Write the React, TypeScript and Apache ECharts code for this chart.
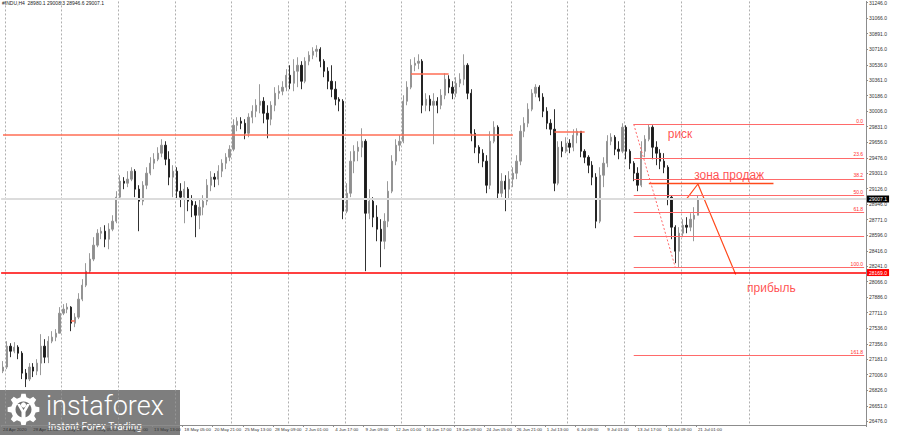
import { useEffect, useRef } from 'react'
import * as echarts from 'echarts'

const titleText = '#INDU,H4  28980.1 29008.3 28946.6 29007.1'

// one label every 8 slots (each slot = two H4 bars)
const timeLabels = [
  '24 Apr 2020', '28 Apr 21:00', '1 May 13:00', '6 May 05:00', '8 May 21:00', '13 May 13:00',
  '18 May 05:00', '20 May 21:00', '25 May 13:00', '28 May 09:00', '2 Jun 01:00', '4 Jun 17:00',
  '9 Jun 09:00', '12 Jun 01:00', '16 Jun 17:00', '19 Jun 09:00', '24 Jun 05:00', '26 Jun 21:00',
  '1 Jul 13:00', '6 Jul 09:00', '9 Jul 01:00', '13 Jul 17:00', '16 Jul 09:00', '21 Jul 01:00',
]
const LABEL_STEP = 8
const SLOT_COUNT = 229

const priceTicks = [
  26476, 26651, 26826, 27006, 27181, 27356, 27536, 27711, 27886, 28066, 28241, 28416, 28596, 28771,
  28946, 29126, 29301, 29476, 29656, 29831, 30006, 30186, 30361, 30536, 30716, 30891, 31066, 31246,
]

// week separators (slot index)
const weekSeparators = [1, 16, 31, 46, 61, 76, 91, 106, 120, 135, 150, 165, 180, 198]

const firstOpen = 27046
const closes = [
  27092, 27330, 27273, 27319, 27250, 27023, 26955, 27092, 27046, 27137,
  27330, 27205, 27387, 27433, 27478, 27706, 27752, 27775, 27592, 27661,
  27866, 28025, 28185, 28322, 28481, 28617, 28640, 28549, 28663, 28754,
  29028, 29210, 29187, 29233, 29324, 29119, 28982, 29164, 29301, 29415,
  29460, 29529, 29620, 29460, 29256, 29324, 29096, 29028, 29119, 28982,
  28936, 28822, 28914, 28982, 29164, 29256, 29233, 29324, 29415, 29483,
  29574, 29847, 29893, 29870, 29756, 29939, 30007, 30075, 30121, 29984,
  29916, 30075, 30212, 30235, 30281, 30417, 30326, 30463, 30531, 30349,
  30577, 30645, 30690, 30713, 30577, 30463, 30349, 30258, 30144, 30121,
  28868, 29073, 29438, 29551, 29597, 29665, 28845, 28982, 28800, 28663,
  28526, 28754, 29096, 29438, 29620, 29665, 30121, 30281, 30531, 30554,
  30577, 30075, 30144, 30075, 30121, 30075, 30189, 30372, 30281, 30212,
  30326, 30372, 30531, 30212, 29756, 29597, 29529, 29438, 29164, 29665,
  29825, 29073, 29210, 29119, 29233, 29301, 29438, 29779, 29870, 30030,
  30212, 30281, 30167, 30007, 29870, 29802, 29187, 29597, 29551, 29642,
  29597, 29734, 29779, 29551, 29483, 29392, 29256, 28754, 29278, 29415,
  29665, 29711, 29574, 29551, 29825, 29551, 29415, 29301, 29164, 29551,
  29688, 29825, 29597, 29529, 29438, 29369, 29028, 28686, 28412, 28617,
  28708, 28686, 28777, 28822, 29007.1,
]
const highs = [
  27160, 27387, 27364, 27376, 27341, 27273, 27069, 27137, 27137, 27182,
  27467, 27410, 27444, 27501, 27524, 27775, 27809, 27820, 27786, 27706,
  27934, 28094, 28276, 28390, 28572, 28663, 28686, 28708, 28731, 28822,
  29096, 29278, 29256, 29324, 29369, 29347, 29164, 29210, 29369, 29483,
  29529, 29597, 29688, 29665, 29551, 29392, 29369, 29187, 29210, 29142,
  29051, 28982, 29005, 29051, 29233, 29324, 29301, 29392, 29460, 29529,
  29620, 29916, 29939, 29939, 29916, 29984, 30075, 30144, 30315, 30167,
  30075, 30121, 30281, 30303, 30349, 30486, 30531, 30600, 30622, 30577,
  30622, 30690, 30736, 30759, 30736, 30600, 30508, 30531, 30349, 30167,
  30144, 29187, 29551, 29620, 29665, 29813, 29688, 29119, 29028, 28936,
  28777, 28845, 29210, 29506, 29688, 29734, 30189, 30349, 30600, 30622,
  30656, 30600, 30212, 30189, 30212, 30167, 30258, 30440, 30417, 30349,
  30395, 30440, 30656, 30554, 30258, 29802, 29620, 29574, 29506, 29779,
  29893, 29847, 29301, 29278, 29324, 29369, 29506, 29847, 29939, 30098,
  30258, 30315, 30303, 30212, 30053, 29916, 30030, 29665, 29665, 29711,
  29688, 29802, 29813, 29779, 29574, 29506, 29438, 29301, 29369, 29483,
  29734, 29756, 29734, 29665, 29870, 29847, 29574, 29438, 29369, 29665,
  29734, 29859, 29847, 29665, 29574, 29529, 29392, 29051, 28708, 28686,
  28777, 28800, 28845, 28914, 29051,
]
const lows = [
  27023, 27069, 27205, 27250, 27182, 26955, 26864, 26932, 26978, 27000,
  27000, 27137, 27137, 27364, 27387, 27478, 27684, 27706, 27501, 27547,
  27638, 27843, 28003, 28162, 28299, 28458, 28549, 28458, 28435, 28640,
  28731, 29005, 29119, 29142, 29210, 29028, 28640, 28936, 29119, 29278,
  29347, 29438, 29483, 29392, 29164, 29028, 29005, 28914, 28731, 28868,
  28800, 28572, 28663, 28822, 28936, 29096, 29142, 29164, 29256, 29347,
  29438, 29551, 29779, 29802, 29688, 29711, 29870, 29939, 29984, 29870,
  29699, 29847, 30007, 30144, 30189, 30235, 30258, 30235, 30281, 30258,
  30326, 30531, 30600, 30622, 30508, 30395, 30258, 30167, 30075, 30007,
  28777, 28845, 29028, 29301, 29438, 29483, 28185, 28777, 28686, 28526,
  28230, 28435, 28686, 29073, 29392, 29551, 29642, 30075, 30258, 30463,
  30486, 29984, 30007, 30007, 29631, 29984, 30030, 30144, 30212, 30144,
  30167, 30281, 30303, 30144, 29665, 29529, 29415, 29369, 29073, 29119,
  29642, 29005, 29028, 28868, 29005, 29142, 29233, 29392, 29711, 29825,
  30007, 30167, 30121, 29939, 29802, 29734, 29096, 29164, 29483, 29529,
  29529, 29551, 29642, 29483, 29415, 29301, 29164, 28674, 28731, 29142,
  29369, 29620, 29506, 29460, 29529, 29460, 29347, 29210, 29096, 29142,
  29483, 29665, 29460, 29392, 29347, 29301, 28936, 28549, 28276, 28230,
  28572, 28617, 28640, 28526, 28822,
]

const lastPrice = 29007.1
const supportPrice = 28169.0

// drawn horizontal levels: [fromSlot, toSlot, price]
const levelSegments = [
  [0, 135, 29734],
  [108, 118, 30436],
  [146, 154, 29768],
  [18, 19, 27615],
]
const sellZone = [171, 204, 29183]
const projectionSlots = [181, 184, 194]
const projectionPrices = [29008, 29178, 28146]

const fibHigh = 29859
const fibLow = 28230
const fibStartSlot = 167
const fibEndSlot = 228
const fibDiagonalSlots = [167, 178]
const fibRatios = [0.0, 23.6, 38.2, 50.0, 61.8, 78.6, 100.0, 161.8]
const fibLabels = ['0.0', '23.6', '38.2', '50.0', '61.8', '', '100.0', '161.8']

const noteTexts = ['риск', 'зона продаж', 'прибыль']
const noteSlots = [176, 183, 197]
const notePrices = [29745, 29278, 27991]

function gearPoints(cx: number, cy: number, rOut: number, rIn: number, teeth: number) {
  const pts: number[][] = []
  const step = (Math.PI * 2) / teeth
  for (let k = 0; k < teeth; k++) {
    const a = k * step
    const angles = [a - step * 0.3, a - step * 0.17, a + step * 0.17, a + step * 0.3]
    const radii = [rIn, rOut, rOut, rIn]
    angles.forEach((t, j) => pts.push([cx + radii[j] * Math.cos(t), cy + radii[j] * Math.sin(t)]))
  }
  return pts
}

function buildOption() {
  const categories = Array.from({ length: SLOT_COUNT }, (_, i) => String(i))
  const candles = closes.map((c, i) => [i === 0 ? firstOpen : closes[i - 1], c, lows[i], highs[i]])

  const fibRange = fibHigh - fibLow
  const fibLines = fibRatios.map((r, i) => {
    const price = fibHigh - (r / 100) * fibRange
    return [
      {
        coord: [String(fibStartSlot), price],
        lineStyle: { color: '#ff6a6a', width: 1, type: 'solid' },
        label: {
          show: fibLabels[i] !== '',
          formatter: fibLabels[i],
          position: 'insideEndTop',
          distance: 1,
          color: '#ff3030',
          fontSize: 5,
          fontFamily: 'Liberation Sans',
        },
      },
      { coord: [String(fibEndSlot), price] },
    ]
  })

  const segLines = levelSegments.map(([a, b, p]) => [
    { coord: [String(a), p], lineStyle: { color: '#ff6e55', width: 1.5, type: 'solid' } },
    { coord: [String(b), p] },
  ])

  const markLines: any[] = [
    {
      yAxis: lastPrice,
      lineStyle: { color: '#dcdcdc', width: 2, type: 'solid' },
      label: {
        show: true, position: 'end', distance: 1, formatter: '29007.1',
        backgroundColor: '#000', color: '#fff', fontSize: 5, padding: [1, 2],
        fontFamily: 'Liberation Sans',
      },
    },
    {
      yAxis: supportPrice,
      lineStyle: { color: '#ff0000', width: 1.5, type: 'solid' },
      label: {
        show: true, position: 'end', distance: 1, formatter: '28169.0',
        backgroundColor: '#ff0000', color: '#fff', fontSize: 5, padding: [1, 2],
        fontFamily: 'Liberation Sans',
      },
    },
    ...segLines,
    [
      { coord: [String(sellZone[0]), sellZone[2]], lineStyle: { color: '#ff4a1c', width: 1.3, type: 'solid' } },
      { coord: [String(sellZone[1]), sellZone[2]] },
    ],
    ...fibLines,
    [
      { coord: [String(fibDiagonalSlots[0]), fibHigh], lineStyle: { color: '#ff6a6a', width: 1, type: [2, 2] } },
      { coord: [String(fibDiagonalSlots[1]), fibLow] },
    ],
  ]

  const gear = gearPoints(23.5, 409.5, 16, 12.5, 8)

  return {
    animation: false,
    backgroundColor: '#ffffff',
    title: {
      text: titleText,
      left: 2,
      top: 0,
      padding: 0,
      textStyle: { fontSize: 5, fontWeight: 'normal', color: '#222', fontFamily: 'Liberation Sans' },
    },
    grid: { left: 0, right: 34, top: 0, bottom: 10 },
    xAxis: {
      type: 'category',
      data: categories,
      boundaryGap: true,
      axisLine: { show: true, lineStyle: { color: '#8c8c8c', width: 1 } },
      axisTick: {
        show: true,
        length: 2,
        interval: (idx: number) => idx % LABEL_STEP === 0 && idx / LABEL_STEP < timeLabels.length,
        lineStyle: { color: '#8c8c8c' },
      },
      axisLabel: {
        show: true,
        interval: (idx: number) => idx % LABEL_STEP === 0 && idx / LABEL_STEP < timeLabels.length,
        formatter: (v: string) => timeLabels[Number(v) / LABEL_STEP] ?? '',
        fontSize: 4.4,
        color: '#333',
        align: 'left',
        margin: 2,
        fontFamily: 'Liberation Sans',
      },
      splitLine: {
        show: true,
        interval: (idx: number) => weekSeparators.includes(idx),
        lineStyle: { color: '#9a9a9a', width: 0.8, type: [2, 2] },
      },
    },
    yAxis: {
      type: 'value',
      position: 'right',
      min: 26432,
      max: 31258,
      scale: true,
      splitLine: { show: false },
      axisLine: { show: true, lineStyle: { color: '#8c8c8c', width: 1 } },
      axisTick: { show: true, length: 2, customValues: priceTicks, lineStyle: { color: '#8c8c8c' } },
      axisLabel: {
        show: true,
        customValues: priceTicks,
        formatter: (v: number) => v.toFixed(1),
        fontSize: 5,
        color: '#333',
        margin: 3,
        fontFamily: 'Liberation Sans',
      },
    },
    series: [
      {
        type: 'candlestick',
        data: candles,
        barWidth: 1.8,
        z: 3,
        itemStyle: {
          color: '#8e8e8e',
          color0: '#1a1a1a',
          borderColor: '#8e8e8e',
          borderColor0: '#1a1a1a',
          borderWidth: 0.9,
        },
        markLine: {
          silent: true,
          symbol: ['none', 'none'],
          animation: false,
          label: { show: false },
          data: markLines,
        },
      },
      {
        type: 'line',
        data: projectionSlots.map((s, i) => [String(s), projectionPrices[i]]),
        symbol: 'none',
        silent: true,
        z: 4,
        lineStyle: { color: '#ff4a1c', width: 1.2 },
      },
      {
        type: 'scatter',
        silent: true,
        z: 5,
        symbolSize: 0,
        data: noteTexts.map((t, i) => ({ name: t, value: [String(noteSlots[i]), notePrices[i]] })),
        label: {
          show: true,
          position: 'right',
          distance: 0,
          formatter: '{b}',
          color: '#ff1f1f',
          fontSize: 12,
          fontFamily: 'Liberation Sans',
        },
      },
    ],
    graphic: [
      {
        type: 'group',
        z: 100,
        children: [
          { type: 'rect', shape: { x: 0, y: 390, width: 180, height: 45 }, style: { fill: 'rgba(112,112,112,0.9)' } },
          { type: 'polygon', shape: { points: gear }, style: { fill: '#ffffff' } },
          { type: 'circle', shape: { cx: 23.5, cy: 409.5, r: 8 }, style: { fill: '#707070' } },
          { type: 'circle', shape: { cx: 23.5, cy: 405, r: 2.6 }, style: { fill: '#ffffff' } },
          {
            type: 'polygon',
            shape: { points: [[17, 404], [20, 404], [23.5, 410], [27, 404], [30, 404], [25.5, 412], [25.5, 419], [21.5, 419], [21.5, 412]] },
            style: { fill: '#ffffff' },
          },
          {
            type: 'text',
            x: 46,
            y: 419,
            style: {
              text: 'instaforex',
              fill: '#ffffff',
              fontSize: 27,
              fontFamily: 'Roboto',
              fontWeight: 300,
              textVerticalAlign: 'bottom',
            },
          },
          {
            type: 'text',
            x: 48,
            y: 426,
            style: {
              text: 'Instant Forex Trading',
              fill: '#ffffff',
              fontSize: 10,
              fontFamily: 'Roboto',
              textVerticalAlign: 'middle',
            },
          },
        ],
      },
    ],
  }
}

export default function App() {
  const chartRef = useRef<HTMLDivElement>(null)

  useEffect(() => {
    if (!chartRef.current) return
    const chart = echarts.init(chartRef.current, null, { renderer: 'svg' })
    chart.setOption(buildOption() as any)
    return () => {
      chart.dispose()
    }
  }, [])

  return (
    <div style={{ position: 'fixed', left: 0, top: 0, width: 900, height: 435, background: '#fff' }}>
      <div ref={chartRef} style={{ width: 900, height: 435 }}></div>
    </div>
  )
}
